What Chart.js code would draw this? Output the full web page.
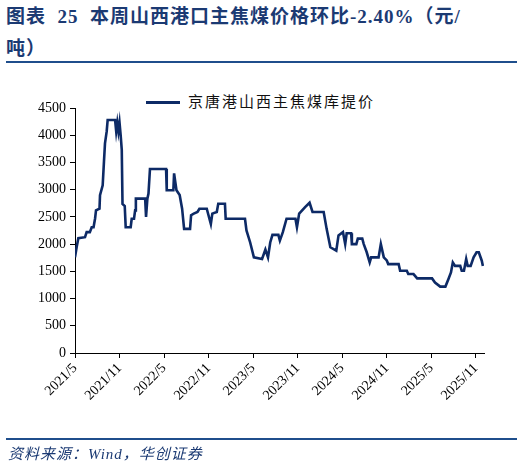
<!DOCTYPE html>
<html>
<head>
<meta charset="utf-8">
<script src="https://cdn.jsdelivr.net/npm/chart.js@4"></script>
<style>
  body { margin:0; background:#fff; }
  #wrap { position:relative; width:524px; height:470px; }
  #title { position:absolute; left:6px; top:1px; width:475px; font:bold 19px "Liberation Serif","Noto Sans CJK SC",serif; color:#1b3a73; line-height:32px; letter-spacing:1px; }
  .rule { position:absolute; left:6px; width:511px; height:2px; background:#1f4e8c; }
  #src { position:absolute; left:8px; top:442px; font:italic 15px "Liberation Serif","Noto Sans CJK SC",serif; color:#1b3a73; letter-spacing:1px; }
  #legend { position:absolute; left:146px; top:90px; font:15px "Noto Sans CJK SC",serif; color:#111; letter-spacing:2px; }
  #legend span { display:inline-block; width:34px; height:3px; background:#0d2a66; vertical-align:middle; margin-right:8px; }
  canvas { position:absolute; left:0; top:0; }
</style>
</head>
<body>
<div id="wrap">
  <div id="title">图表&nbsp; 25&nbsp; 本周山西港口主焦煤价格环比-2.40%（元/吨）</div>
  <div class="rule" style="top:61px"></div>
  <div id="legend"><span></span>京唐港山西主焦煤库提价</div>
  <canvas id="c" width="524" height="470"></canvas>
  <div class="rule" style="top:438px"></div>
  <div id="src">资料来源：Wind，华创证券</div>
</div>
<script>
// months since 2021/5, price (元/吨)
const months = [0,0.22,0.45,1.35,1.57,2.0,2.25,2.5,2.7,2.83,3.3,3.37,3.73,3.9,4.04,4.27,4.4,5.4,5.55,5.7,5.85,6.0,6.15,6.3,6.4,6.7,6.83,7.5,7.64,7.95,8.1,8.2,9.45,9.57,9.75,9.9,10.1,12.27,12.36,13.25,13.35,13.5,13.67,14.1,14.43,14.7,15.5,15.64,16.0,16.5,16.76,17.75,18.3,18.5,19.1,19.3,20.2,20.3,22.9,23.1,23.6,24.1,25.2,25.65,26.0,26.3,26.6,27.4,27.6,28.0,28.5,29.7,29.9,30.2,30.6,31.0,31.6,32.0,33.5,33.9,34.4,35.2,35.5,36.1,36.4,36.6,37.2,37.3,37.9,38.1,38.7,38.9,39.3,39.7,39.9,40.9,41.2,41.6,42.0,42.2,43.6,43.8,44.7,44.9,45.6,46.1,48.1,48.5,49.2,49.9,50.3,50.65,50.9,51.2,51.9,52.1,52.4,52.7,52.9,53.3,53.7,54.1,54.4,54.8,54.95];
const prices = [1757,1942,2108,2127,2220,2220,2310,2310,2466,2620,2650,2900,3080,3510,3850,4070,4280,4280,4070,4230,4070,4230,4000,3730,2740,2700,2310,2310,2466,2466,2620,2835,2835,2500,2835,2930,3380,3380,2990,2990,3300,3150,2990,2900,2650,2280,2280,2530,2560,2590,2650,2650,2370,2560,2590,2740,2740,2466,2466,2250,2030,1757,1726,1900,1757,2030,2170,2170,2065,2220,2466,2466,2310,2560,2620,2680,2760,2590,2590,2280,1942,1880,2160,2220,2000,2200,2200,2000,2000,2100,2100,2000,1850,1664,1757,1757,2000,1757,1700,1633,1633,1510,1510,1450,1450,1370,1370,1294,1220,1220,1356,1480,1664,1600,1600,1510,1510,1726,1600,1600,1757,1850,1850,1695,1600];
const tickLabels = {0:'2021/5',6:'2021/11',12:'2022/5',18:'2022/11',24:'2023/5',30:'2023/11',36:'2024/5',42:'2024/11',48:'2025/5',54:'2025/11'};

const points = months.map((m, i) => ({ x: m, y: prices[i] }));
const tickFont = { family: 'Liberation Serif', size: 14 };

new Chart(document.getElementById('c').getContext('2d'), {
  type: 'line',
  data: { datasets: [{ label: '京唐港山西主焦煤库提价', data: points, borderColor: '#0d2a66', borderWidth: 2.6, pointRadius: 0, tension: 0 }] },
  options: {
    responsive: false,
    animation: false,
    layout: { padding: { left: 0, top: 108, right: 40, bottom: 0 } },
    plugins: { legend: { display: false }, tooltip: { enabled: false } },
    scales: {
      x: {
        type: 'linear', min: 0, max: 55.1,
        afterFit: s => { s.height = 470 - 353; },
        afterBuildTicks: s => { s.ticks = Object.keys(tickLabels).map(v => ({ value: +v })); },
        ticks: { callback: v => tickLabels[v] || '', maxRotation: 45, minRotation: 45, color: '#000', font: tickFont, padding: 2 },
        grid: { drawOnChartArea: false, tickLength: 5, color: '#000' },
        border: { color: '#000' }
      },
      y: {
        min: 0, max: 4500,
        afterFit: s => { s.width = 75; },
        ticks: { stepSize: 500, callback: v => String(v), color: '#000', font: tickFont, padding: 4 },
        grid: { drawOnChartArea: false, tickLength: 5, color: '#000' },
        border: { color: '#000' }
      }
    }
  }
});
</script>
</body>
</html>
